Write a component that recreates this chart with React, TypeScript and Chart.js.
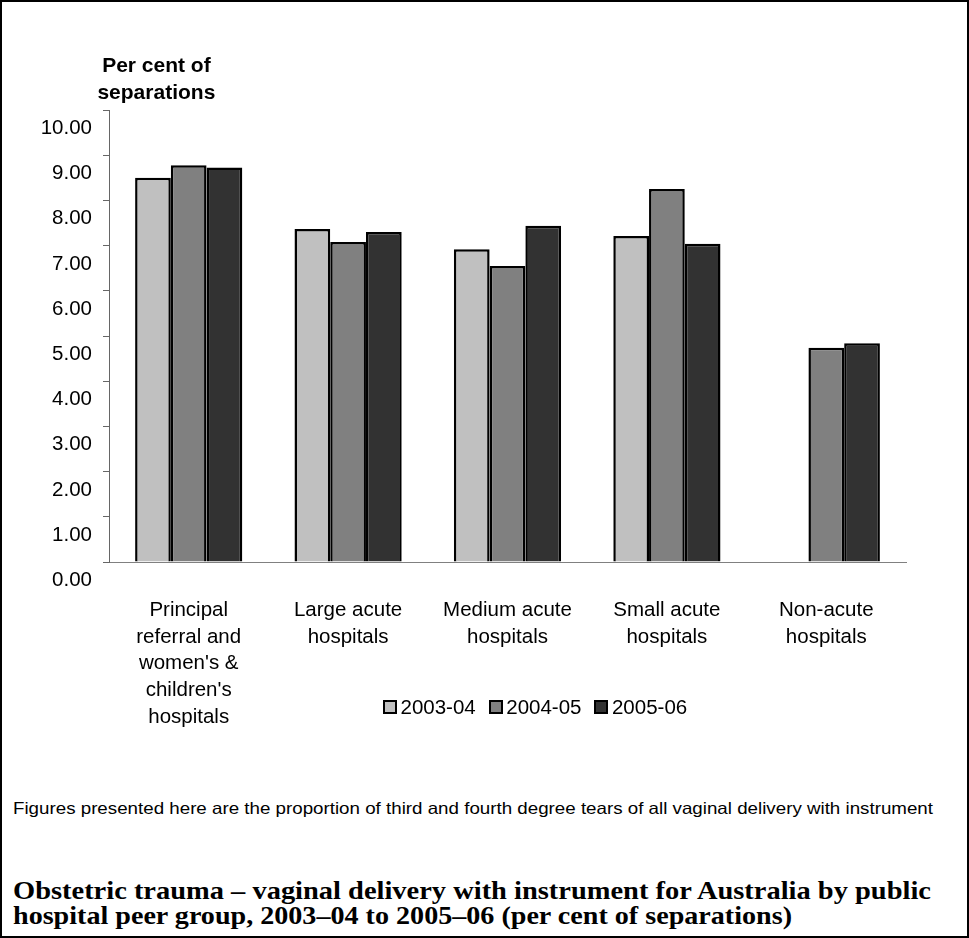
import React, { useEffect, useRef } from 'react';
import { Chart, registerables } from 'chart.js';

Chart.register(...registerables);

// ---- data ----
const categories: string[][] = [
  ['Principal', 'referral and', "women's &", "children's", 'hospitals'],
  ['Large acute', 'hospitals'],
  ['Medium acute', 'hospitals'],
  ['Small acute', 'hospitals'],
  ['Non-acute', 'hospitals'],
];
const seriesNames = ['2003-04', '2004-05', '2005-06'];
const values2003_04: (number | null)[] = [8.5, 7.37, 6.92, 7.21, null];
const values2004_05: (number | null)[] = [8.78, 7.08, 6.55, 8.25, 4.74];
const values2005_06: (number | null)[] = [8.73, 7.3, 7.44, 7.04, 4.84];
const seriesColors = ['#C0C0C0', '#808080', '#323232'];
const yTickLabels = ['0.00', '1.00', '2.00', '3.00', '4.00', '5.00', '6.00', '7.00', '8.00', '9.00', '10.00'];
const yAxisTitle = ['Per cent of', 'separations'];
const footnote =
  'Figures presented here are the proportion of third and fourth degree tears of all vaginal delivery with instrument';
const titleLines = [
  'Obstetric trauma \u2013 vaginal delivery with instrument for Australia by public',
  'hospital peer group, 2003\u201304 to 2005\u201306 (per cent of separations)',
];

const SANS = "'Liberation Sans', Arial, sans-serif";
const SERIF = "'Liberation Serif', 'Times New Roman', serif";

function fitScale(text: string, font: string, target: number): number {
  const c = document.createElement('canvas').getContext('2d');
  if (!c) return 1;
  c.font = font;
  const w = c.measureText(text).width;
  return w > 0 ? target / w : 1;
}

function FitLine(props: { text: string; left: number; top: number; size: number; family: string; bold?: boolean; lineHeight: number; target: number }) {
  const { text, left, top, size, family, bold, lineHeight, target } = props;
  const font = `${bold ? 'bold ' : ''}${size}px ${family}`;
  const s = fitScale(text, font, target);
  return (
    <div
      style={{
        position: 'absolute',
        left,
        top,
        whiteSpace: 'nowrap',
        font,
        lineHeight: `${lineHeight}px`,
        color: '#000',
        transform: `scaleX(${s})`,
        transformOrigin: 'left top',
      }}
    >
      {text}
    </div>
  );
}

export default function App() {
  const canvasRef = useRef<HTMLCanvasElement | null>(null);

  useEffect(() => {
    if (!canvasRef.current) return;
    const seriesValues = [values2003_04, values2004_05, values2005_06];
    const chart = new Chart(canvasRef.current, {
      type: 'bar',
      data: {
        labels: categories,
        datasets: seriesNames.map((name, i) => ({
          label: name,
          data: seriesValues[i],
          backgroundColor: seriesColors[i],
          borderColor: '#000000',
          borderWidth: 2.5,
          categoryPercentage: 0.6725,
          barPercentage: 1,
        })),
      },
      options: {
        responsive: false,
        animation: false,
        layout: { padding: { top: 110, right: 63, left: 0, bottom: 0 } },
        plugins: {
          legend: { display: false },
          tooltip: { enabled: false },
          title: { display: false },
        },
        scales: {
          x: {
            grid: { display: true, drawOnChartArea: false, drawTicks: false },
            border: { display: true, color: '#808080', width: 1 },
            ticks: {
              color: '#000',
              padding: 35,
              maxRotation: 0,
              autoSkip: false,
              font: { family: SANS, size: 20.5, lineHeight: 1.3 },
            },
            afterFit: (s: any) => {
              s.height = 198;
            },
          },
          y: {
            min: 0,
            max: 10,
            grid: { drawOnChartArea: false, drawTicks: true, tickLength: 6, color: '#666', lineWidth: 1 },
            border: { display: true, color: '#666', width: 1 },
            ticks: {
              stepSize: 1,
              color: '#000',
              padding: 11,
              labelOffset: 18.3,
              font: { family: SANS, size: 20.5 },
              callback: (v: any) => yTickLabels[Math.round(Number(v))] ?? '',
            },
            afterFit: (s: any) => {
              s.width = 109;
            },
          },
        },
      } as any,
    });
    return () => chart.destroy();
  }, []);

  return (
    <div style={{ position: 'absolute', left: 0, top: 0, width: 969, height: 938, background: '#fff', overflow: 'hidden' }}>
      <canvas ref={canvasRef} width={969} height={760} style={{ position: 'absolute', left: 0, top: 0, width: 969, height: 760 }} />
      <div
        style={{
          position: 'absolute',
          left: 56.4,
          top: 51,
          width: 200,
          textAlign: 'center',
          font: `bold 21px ${SANS}`,
          lineHeight: '27px',
          color: '#000',
        }}
      >
        {yAxisTitle.map((t, i) => (
          <div key={i}>{t}</div>
        ))}
      </div>
      <div style={{ position: 'absolute', left: 383, top: 697, height: 20, display: 'flex', alignItems: 'center' }}>
        {seriesNames.map((n, i) => (
          <div key={n} style={{ display: 'flex', alignItems: 'center', marginRight: 13 }}>
            <div
              style={{
                width: 14,
                height: 14,
                boxSizing: 'border-box',
                border: '2px solid #000',
                background: seriesColors[i],
                marginRight: 3.5,
              }}
            />
            <span style={{ font: `20.5px ${SANS}`, color: '#000', lineHeight: '20px' }}>{n}</span>
          </div>
        ))}
      </div>
      <FitLine text={footnote} left={13} top={798} size={16.5} family={SANS} lineHeight={20} target={920} />
      <FitLine text={titleLines[0]} left={13} top={878} size={25} family={SERIF} bold lineHeight={25} target={920} />
      <FitLine text={titleLines[1]} left={13} top={903} size={25} family={SERIF} bold lineHeight={25} target={780} />
      <div
        style={{
          position: 'absolute',
          left: 0,
          top: 0,
          width: 969,
          height: 938,
          boxSizing: 'border-box',
          border: '2px solid #000',
          pointerEvents: 'none',
        }}
      />
    </div>
  );
}
